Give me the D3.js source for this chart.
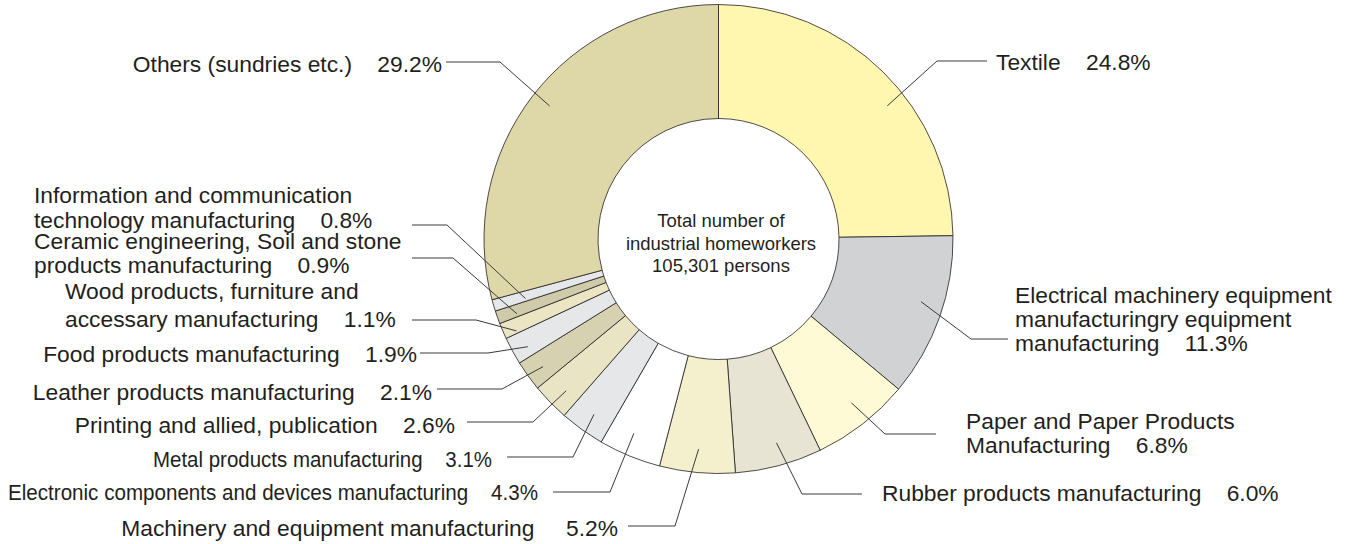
<!DOCTYPE html>
<html><head><meta charset="utf-8">
<script src="https://cdn.jsdelivr.net/npm/d3@7"></script>
<style>
body{margin:0;background:#fff}
svg{display:block}
text{font-family:"Liberation Sans",Arial,Helvetica,sans-serif;fill:#231f20}
</style>
</head><body>
<svg id="chart" width="1348" height="544"></svg>
<script>
// ---- data ----
const categories = [
  "Textile",
  "Electrical machinery equipment\nmanufacturingry equipment\nmanufacturing",
  "Paper and Paper Products\nManufacturing",
  "Rubber products manufacturing",
  "Machinery and equipment manufacturing",
  "Electronic components and devices manufacturing",
  "Metal products manufacturing",
  "Printing and allied, publication",
  "Leather products manufacturing",
  "Food products manufacturing",
  "Wood products, furniture and\naccessary manufacturing",
  "Ceramic engineering, Soil and stone\nproducts manufacturing",
  "Information and communication\ntechnology manufacturing",
  "Others (sundries etc.)"
];
const shares = [24.8, 11.3, 6.8, 6.0, 5.2, 4.3, 3.1, 2.6, 2.1, 1.9, 1.1, 0.9, 0.8, 29.2];
const sliceColors = ["#fff6b0","#d1d2d4","#fffad6","#e7e4d3","#f4f0cd","#ffffff","#e6e7e9",
                     "#e9e4c3","#d6d1b1","#e6e7e9","#ebe5c3","#cfcaa9","#e6e7e9","#ded8a9"];
const centerLines = ["Total number of", "industrial homeworkers", "105,301 persons"];

// ---- layout (label placement) ----
const cx = 718.5, cy = 239, rOuter = 234.5, rInner = 120.5;
const layout = [
  {f:.58,  r:215, elbow:[937,61],  end:987,  anchor:"start", tx:996,  ty:[70]},
  {f:.443, r:212, elbow:[971,339], end:1008, anchor:"start", tx:1015, ty:[303,327,351]},
  {f:.455, r:211, elbow:[885,434], end:936,  anchor:"start", tx:966,  ty:[429,453]},
  {f:.456, r:212, elbow:[802,494], end:862,  anchor:"start", tx:882,  ty:[501]},
  {f:.51,  r:211, elbow:[675,526], end:628,  anchor:"end",   tx:618,  ty:[536], gap:5},
  {f:.58,  r:212, elbow:[610,492], end:553,  anchor:"end",   tx:538,  ty:[500], w:530},
  {f:.48,  r:215, elbow:[573,457], end:507,  anchor:"end",   tx:492,  ty:[467], w:339},
  {f:.42,  r:215, elbow:[533,422], end:467,  anchor:"end",   tx:455,  ty:[433]},
  {f:.455, r:217, elbow:[502,389], end:437,  anchor:"end",   tx:432,  ty:[400]},
  {f:.36,  r:219, elbow:[488,353], end:420,  anchor:"end",   tx:417,  ty:[362]},
  {f:.16,  r:222, elbow:[476,320], end:412,  anchor:"start", tx:65,   ty:[299,327]},
  {f:.24,  r:215, elbow:[453,258], end:412,  anchor:"start", tx:34,   ty:[249,273]},
  {f:.26,  r:202, elbow:[447,225], end:412,  anchor:"start", tx:34,   ty:[203,228]},
  {f:.507, r:215, elbow:[500,62],  end:446,  anchor:"end",   tx:442,  ty:[72]}
];

const data = categories.map((c, i) => ({name: c, value: shares[i], color: sliceColors[i], lay: layout[i]}));

const svg = d3.select("#chart");
const pie = d3.pie().value(d => d.value).sort(null);
const arcs = pie(data);
const arc = d3.arc().innerRadius(rInner).outerRadius(rOuter);

const g = svg.append("g").attr("transform", `translate(${cx},${cy})`);
g.selectAll("path.slice").data(arcs).join("path")
  .attr("class", "slice")
  .attr("d", arc)
  .attr("fill", d => d.data.color)
  .attr("stroke", "#231f20")
  .attr("stroke-width", 0.8)
  .attr("stroke-linejoin", "round");

// leader lines
svg.selectAll("path.leader").data(arcs).join("path")
  .attr("class", "leader")
  .attr("fill", "none")
  .attr("stroke", "#3a3a3a")
  .attr("stroke-width", 1)
  .attr("d", d => {
    const L = d.data.lay;
    const a = d.startAngle + L.f * (d.endAngle - d.startAngle);
    const p = d3.pointRadial(a, L.r);
    const path = d3.path();
    path.moveTo(cx + p[0], cy + p[1]);
    path.lineTo(L.elbow[0], L.elbow[1]);
    path.lineTo(L.end, L.elbow[1]);
    return path.toString();
  });

// labels
const fmt = d3.format(".1f");
arcs.forEach(d => {
  const L = d.data.lay;
  const lines = d.data.name.split("\n");
  const gap = "\u00a0".repeat(L.gap || 4);
  lines[lines.length - 1] += gap + fmt(d.data.value) + "%";
  lines.forEach((ln, i) => {
    const t = svg.append("text")
      .attr("x", L.tx)
      .attr("y", L.ty[i])
      .attr("text-anchor", L.anchor)
      .attr("font-size", 22.8)
      .text(ln);
    if (L.w) t.attr("textLength", L.w).attr("lengthAdjust", "spacingAndGlyphs");
  });
});

// center text
const centerY = [227, 250, 272];
svg.selectAll("text.center").data(centerLines).join("text")
  .attr("class", "center")
  .attr("x", 721)
  .attr("y", (d, i) => centerY[i])
  .attr("text-anchor", "middle")
  .attr("font-size", 18.5)
  .text(d => d);
</script>
</body></html>
